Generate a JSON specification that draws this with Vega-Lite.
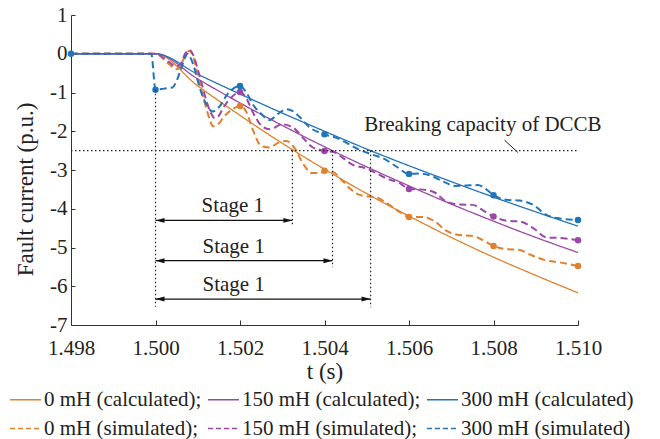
{
  "$schema": "https://vega.github.io/schema/vega-lite/v6.json",
  "width": 507,
  "height": 310,
  "autosize": "none",
  "padding": {"left": 71, "top": 15, "right": 82, "bottom": 114},
  "background": "white",
  "datasets": {
    "calc": [
      {"s": "0 mH (calculated);", "t": 1.498, "v": 0}, {"s": "0 mH (calculated);", "t": 1.5, "v": 0},
      {"s": "0 mH (calculated);", "t": 1.501, "v": -0.83}, {"s": "0 mH (calculated);", "t": 1.502, "v": -1.59},
      {"s": "0 mH (calculated);", "t": 1.503, "v": -2.31}, {"s": "0 mH (calculated);", "t": 1.504, "v": -2.98},
      {"s": "0 mH (calculated);", "t": 1.505, "v": -3.61}, {"s": "0 mH (calculated);", "t": 1.506, "v": -4.19},
      {"s": "0 mH (calculated);", "t": 1.507, "v": -4.74}, {"s": "0 mH (calculated);", "t": 1.508, "v": -5.25},
      {"s": "0 mH (calculated);", "t": 1.509, "v": -5.72}, {"s": "0 mH (calculated);", "t": 1.51, "v": -6.17},
      {"s": "150 mH (calculated);", "t": 1.498, "v": 0}, {"s": "150 mH (calculated);", "t": 1.5, "v": 0},
      {"s": "150 mH (calculated);", "t": 1.501, "v": -0.65}, {"s": "150 mH (calculated);", "t": 1.502, "v": -1.27},
      {"s": "150 mH (calculated);", "t": 1.503, "v": -1.85}, {"s": "150 mH (calculated);", "t": 1.504, "v": -2.4},
      {"s": "150 mH (calculated);", "t": 1.505, "v": -2.92}, {"s": "150 mH (calculated);", "t": 1.506, "v": -3.41},
      {"s": "150 mH (calculated);", "t": 1.507, "v": -3.88}, {"s": "150 mH (calculated);", "t": 1.508, "v": -4.32},
      {"s": "150 mH (calculated);", "t": 1.509, "v": -4.74}, {"s": "150 mH (calculated);", "t": 1.51, "v": -5.13},
      {"s": "300 mH (calculated)", "t": 1.498, "v": 0}, {"s": "300 mH (calculated)", "t": 1.5, "v": 0},
      {"s": "300 mH (calculated)", "t": 1.501, "v": -0.53}, {"s": "300 mH (calculated)", "t": 1.502, "v": -1.04},
      {"s": "300 mH (calculated)", "t": 1.503, "v": -1.53}, {"s": "300 mH (calculated)", "t": 1.504, "v": -2.0},
      {"s": "300 mH (calculated)", "t": 1.505, "v": -2.46}, {"s": "300 mH (calculated)", "t": 1.506, "v": -2.89},
      {"s": "300 mH (calculated)", "t": 1.507, "v": -3.3}, {"s": "300 mH (calculated)", "t": 1.508, "v": -3.7},
      {"s": "300 mH (calculated)", "t": 1.509, "v": -4.08}, {"s": "300 mH (calculated)", "t": 1.51, "v": -4.45}
    ],
    "sim": [
      {"s": "0 mH (simulated);", "t": 1.498, "v": 0}, {"s": "0 mH (simulated);", "t": 1.5, "v": 0},
      {"s": "0 mH (simulated);", "t": 1.5003, "v": -0.25}, {"s": "0 mH (simulated);", "t": 1.5005, "v": -0.4},
      {"s": "0 mH (simulated);", "t": 1.5006, "v": -0.3}, {"s": "0 mH (simulated);", "t": 1.5007, "v": -0.05},
      {"s": "0 mH (simulated);", "t": 1.5008, "v": 0.08}, {"s": "0 mH (simulated);", "t": 1.5009, "v": -0.1},
      {"s": "0 mH (simulated);", "t": 1.501, "v": -0.55}, {"s": "0 mH (simulated);", "t": 1.5011, "v": -1.0},
      {"s": "0 mH (simulated);", "t": 1.5012, "v": -1.4}, {"s": "0 mH (simulated);", "t": 1.5013, "v": -1.75},
      {"s": "0 mH (simulated);", "t": 1.50135, "v": -1.87}, {"s": "0 mH (simulated);", "t": 1.5015, "v": -1.8},
      {"s": "0 mH (simulated);", "t": 1.5016, "v": -1.65}, {"s": "0 mH (simulated);", "t": 1.5018, "v": -1.45},
      {"s": "0 mH (simulated);", "t": 1.502, "v": -1.35}, {"s": "0 mH (simulated);", "t": 1.50215, "v": -1.5},
      {"s": "0 mH (simulated);", "t": 1.5023, "v": -1.95}, {"s": "0 mH (simulated);", "t": 1.5025, "v": -2.38},
      {"s": "0 mH (simulated);", "t": 1.5027, "v": -2.42}, {"s": "0 mH (simulated);", "t": 1.5029, "v": -2.3},
      {"s": "0 mH (simulated);", "t": 1.5031, "v": -2.25}, {"s": "0 mH (simulated);", "t": 1.5033, "v": -2.45},
      {"s": "0 mH (simulated);", "t": 1.5035, "v": -2.85}, {"s": "0 mH (simulated);", "t": 1.5037, "v": -3.08},
      {"s": "0 mH (simulated);", "t": 1.5039, "v": -3.08}, {"s": "0 mH (simulated);", "t": 1.504, "v": -3.02},
      {"s": "0 mH (simulated);", "t": 1.5042, "v": -3.05}, {"s": "0 mH (simulated);", "t": 1.5044, "v": -3.25},
      {"s": "0 mH (simulated);", "t": 1.5046, "v": -3.48}, {"s": "0 mH (simulated);", "t": 1.5048, "v": -3.63},
      {"s": "0 mH (simulated);", "t": 1.505, "v": -3.68}, {"s": "0 mH (simulated);", "t": 1.5052, "v": -3.7},
      {"s": "0 mH (simulated);", "t": 1.5054, "v": -3.8}, {"s": "0 mH (simulated);", "t": 1.5056, "v": -3.95},
      {"s": "0 mH (simulated);", "t": 1.5058, "v": -4.1}, {"s": "0 mH (simulated);", "t": 1.506, "v": -4.21},
      {"s": "0 mH (simulated);", "t": 1.5063, "v": -4.21}, {"s": "0 mH (simulated);", "t": 1.5066, "v": -4.32},
      {"s": "0 mH (simulated);", "t": 1.5069, "v": -4.58}, {"s": "0 mH (simulated);", "t": 1.5072, "v": -4.68},
      {"s": "0 mH (simulated);", "t": 1.5075, "v": -4.7}, {"s": "0 mH (simulated);", "t": 1.50775, "v": -4.81},
      {"s": "0 mH (simulated);", "t": 1.508, "v": -4.96}, {"s": "0 mH (simulated);", "t": 1.5083, "v": -5.04},
      {"s": "0 mH (simulated);", "t": 1.5086, "v": -5.06}, {"s": "0 mH (simulated);", "t": 1.5089, "v": -5.2},
      {"s": "0 mH (simulated);", "t": 1.5092, "v": -5.32}, {"s": "0 mH (simulated);", "t": 1.5096, "v": -5.39},
      {"s": "0 mH (simulated);", "t": 1.51, "v": -5.48},
      {"s": "150 mH (simulated);", "t": 1.498, "v": 0}, {"s": "150 mH (simulated);", "t": 1.5, "v": 0},
      {"s": "150 mH (simulated);", "t": 1.5003, "v": -0.2}, {"s": "150 mH (simulated);", "t": 1.5005, "v": -0.33},
      {"s": "150 mH (simulated);", "t": 1.5006, "v": -0.25}, {"s": "150 mH (simulated);", "t": 1.5007, "v": 0.0},
      {"s": "150 mH (simulated);", "t": 1.5008, "v": 0.1}, {"s": "150 mH (simulated);", "t": 1.5009, "v": -0.05},
      {"s": "150 mH (simulated);", "t": 1.501, "v": -0.4}, {"s": "150 mH (simulated);", "t": 1.5011, "v": -0.8},
      {"s": "150 mH (simulated);", "t": 1.5012, "v": -1.2}, {"s": "150 mH (simulated);", "t": 1.5013, "v": -1.5},
      {"s": "150 mH (simulated);", "t": 1.5014, "v": -1.66}, {"s": "150 mH (simulated);", "t": 1.5015, "v": -1.6},
      {"s": "150 mH (simulated);", "t": 1.5016, "v": -1.4}, {"s": "150 mH (simulated);", "t": 1.5018, "v": -1.12},
      {"s": "150 mH (simulated);", "t": 1.502, "v": -0.99}, {"s": "150 mH (simulated);", "t": 1.50215, "v": -1.15},
      {"s": "150 mH (simulated);", "t": 1.5023, "v": -1.5}, {"s": "150 mH (simulated);", "t": 1.5025, "v": -1.85},
      {"s": "150 mH (simulated);", "t": 1.5027, "v": -1.95}, {"s": "150 mH (simulated);", "t": 1.503, "v": -1.82},
      {"s": "150 mH (simulated);", "t": 1.50325, "v": -1.9}, {"s": "150 mH (simulated);", "t": 1.5035, "v": -2.18},
      {"s": "150 mH (simulated);", "t": 1.5037, "v": -2.4}, {"s": "150 mH (simulated);", "t": 1.504, "v": -2.51},
      {"s": "150 mH (simulated);", "t": 1.5042, "v": -2.53}, {"s": "150 mH (simulated);", "t": 1.50445, "v": -2.7},
      {"s": "150 mH (simulated);", "t": 1.50467, "v": -2.87}, {"s": "150 mH (simulated);", "t": 1.5049, "v": -2.93},
      {"s": "150 mH (simulated);", "t": 1.50515, "v": -3.04}, {"s": "150 mH (simulated);", "t": 1.50547, "v": -3.22},
      {"s": "150 mH (simulated);", "t": 1.50578, "v": -3.34}, {"s": "150 mH (simulated);", "t": 1.506, "v": -3.49},
      {"s": "150 mH (simulated);", "t": 1.50625, "v": -3.5}, {"s": "150 mH (simulated);", "t": 1.50657, "v": -3.56},
      {"s": "150 mH (simulated);", "t": 1.50689, "v": -3.82}, {"s": "150 mH (simulated);", "t": 1.5072, "v": -3.89},
      {"s": "150 mH (simulated);", "t": 1.50751, "v": -3.9}, {"s": "150 mH (simulated);", "t": 1.50779, "v": -4.07},
      {"s": "150 mH (simulated);", "t": 1.508, "v": -4.2}, {"s": "150 mH (simulated);", "t": 1.50831, "v": -4.31},
      {"s": "150 mH (simulated);", "t": 1.50862, "v": -4.33}, {"s": "150 mH (simulated);", "t": 1.50894, "v": -4.5},
      {"s": "150 mH (simulated);", "t": 1.50925, "v": -4.74}, {"s": "150 mH (simulated);", "t": 1.50965, "v": -4.76},
      {"s": "150 mH (simulated);", "t": 1.51, "v": -4.81},
      {"s": "300 mH (simulated)", "t": 1.498, "v": 0}, {"s": "300 mH (simulated)", "t": 1.4999, "v": 0},
      {"s": "300 mH (simulated)", "t": 1.5, "v": -0.93}, {"s": "300 mH (simulated)", "t": 1.5002, "v": -0.9},
      {"s": "300 mH (simulated)", "t": 1.5004, "v": -0.87}, {"s": "300 mH (simulated)", "t": 1.5005, "v": -0.7},
      {"s": "300 mH (simulated)", "t": 1.5006, "v": -0.4}, {"s": "300 mH (simulated)", "t": 1.5007, "v": -0.1},
      {"s": "300 mH (simulated)", "t": 1.50075, "v": 0.0}, {"s": "300 mH (simulated)", "t": 1.5008, "v": -0.05},
      {"s": "300 mH (simulated)", "t": 1.5009, "v": -0.3}, {"s": "300 mH (simulated)", "t": 1.501, "v": -0.7},
      {"s": "300 mH (simulated)", "t": 1.5011, "v": -1.05}, {"s": "300 mH (simulated)", "t": 1.5012, "v": -1.3},
      {"s": "300 mH (simulated)", "t": 1.50135, "v": -1.49}, {"s": "300 mH (simulated)", "t": 1.5015, "v": -1.38},
      {"s": "300 mH (simulated)", "t": 1.50172, "v": -1.02}, {"s": "300 mH (simulated)", "t": 1.502, "v": -0.83},
      {"s": "300 mH (simulated)", "t": 1.50215, "v": -1.0}, {"s": "300 mH (simulated)", "t": 1.5023, "v": -1.3},
      {"s": "300 mH (simulated)", "t": 1.5025, "v": -1.55}, {"s": "300 mH (simulated)", "t": 1.5027, "v": -1.71},
      {"s": "300 mH (simulated)", "t": 1.5029, "v": -1.55}, {"s": "300 mH (simulated)", "t": 1.5031, "v": -1.43},
      {"s": "300 mH (simulated)", "t": 1.50325, "v": -1.48}, {"s": "300 mH (simulated)", "t": 1.5034, "v": -1.62},
      {"s": "300 mH (simulated)", "t": 1.50365, "v": -1.9}, {"s": "300 mH (simulated)", "t": 1.504, "v": -2.08},
      {"s": "300 mH (simulated)", "t": 1.50428, "v": -2.17}, {"s": "300 mH (simulated)", "t": 1.50452, "v": -2.3},
      {"s": "300 mH (simulated)", "t": 1.50483, "v": -2.48}, {"s": "300 mH (simulated)", "t": 1.50515, "v": -2.61},
      {"s": "300 mH (simulated)", "t": 1.50539, "v": -2.7}, {"s": "300 mH (simulated)", "t": 1.5057, "v": -2.91},
      {"s": "300 mH (simulated)", "t": 1.506, "v": -3.1}, {"s": "300 mH (simulated)", "t": 1.50625, "v": -3.09},
      {"s": "300 mH (simulated)", "t": 1.50657, "v": -3.17}, {"s": "300 mH (simulated)", "t": 1.50689, "v": -3.34},
      {"s": "300 mH (simulated)", "t": 1.50708, "v": -3.41}, {"s": "300 mH (simulated)", "t": 1.50736, "v": -3.4},
      {"s": "300 mH (simulated)", "t": 1.50763, "v": -3.39}, {"s": "300 mH (simulated)", "t": 1.50783, "v": -3.5},
      {"s": "300 mH (simulated)", "t": 1.508, "v": -3.65}, {"s": "300 mH (simulated)", "t": 1.50831, "v": -3.77},
      {"s": "300 mH (simulated)", "t": 1.50862, "v": -3.79}, {"s": "300 mH (simulated)", "t": 1.50894, "v": -3.9},
      {"s": "300 mH (simulated)", "t": 1.50925, "v": -4.16}, {"s": "300 mH (simulated)", "t": 1.50957, "v": -4.25},
      {"s": "300 mH (simulated)", "t": 1.51, "v": -4.29}
    ],
    "markers": [
      {"s": "0 mH (simulated);", "t": 1.502, "v": -1.35}, {"s": "0 mH (simulated);", "t": 1.504, "v": -3.02},
      {"s": "0 mH (simulated);", "t": 1.506, "v": -4.21}, {"s": "0 mH (simulated);", "t": 1.508, "v": -4.96},
      {"s": "0 mH (simulated);", "t": 1.51, "v": -5.48},
      {"s": "150 mH (simulated);", "t": 1.502, "v": -0.99}, {"s": "150 mH (simulated);", "t": 1.504, "v": -2.51},
      {"s": "150 mH (simulated);", "t": 1.506, "v": -3.49}, {"s": "150 mH (simulated);", "t": 1.508, "v": -4.2},
      {"s": "150 mH (simulated);", "t": 1.51, "v": -4.81},
      {"s": "300 mH (simulated)", "t": 1.498, "v": 0}, {"s": "300 mH (simulated)", "t": 1.5, "v": -0.93},
      {"s": "300 mH (simulated)", "t": 1.502, "v": -0.83}, {"s": "300 mH (simulated)", "t": 1.504, "v": -2.08},
      {"s": "300 mH (simulated)", "t": 1.506, "v": -3.1}, {"s": "300 mH (simulated)", "t": 1.508, "v": -3.65},
      {"s": "300 mH (simulated)", "t": 1.51, "v": -4.29}
    ],
    "hline": [{"t": 1.498, "t2": 1.51, "v": -2.5}],
    "vlines": [
      {"t": 1.5, "v": -0.93, "v2": -6.53},
      {"t": 1.50324, "v": -2.5, "v2": -4.42},
      {"t": 1.50419, "v": -2.5, "v2": -5.51},
      {"t": 1.50509, "v": -2.5, "v2": -6.54}
    ],
    "arrows": [
      {"t": 1.5, "t2": 1.50324, "v": -4.3},
      {"t": 1.5, "t2": 1.50419, "v": -5.34},
      {"t": 1.5, "t2": 1.50509, "v": -6.33}
    ],
    "stages": [
      {"t": 1.50183, "v": -3.92, "label": "Stage 1"},
      {"t": 1.50185, "v": -4.98, "label": "Stage 1"},
      {"t": 1.50185, "v": -5.97, "label": "Stage 1"}
    ],
    "note": [{"t": 1.50775, "v": -1.84, "label": "Breaking capacity of DCCB"}],
    "leader": [{"t": 1.50826, "t2": 1.50858, "v": -2.23, "v2": -2.55}]
  },
  "encoding": {
    "x": {
      "field": "t", "type": "quantitative",
      "scale": {"domain": [1.498, 1.51], "nice": false, "zero": false},
      "axis": {
        "title": "t (s)", "values": [1.498, 1.5, 1.502, 1.504, 1.506, 1.508, 1.51],
        "format": ".3f", "grid": false, "tickSize": -5, "labelPadding": 17,
        "titlePadding": 2, "labelFlush": false, "labelOverlap": false
      }
    },
    "y": {
      "field": "v", "type": "quantitative",
      "scale": {"domain": [-7, 1], "nice": false, "zero": false},
      "axis": {
        "title": "Fault current (p.u.)", "values": [-7, -6, -5, -4, -3, -2, -1, 0, 1],
        "labelExpr": "toString(datum.value)", "grid": false, "tickSize": -4,
        "labelPadding": 8, "titleX": -46, "titleY": 174, "titleBaseline": "middle",
        "labelFlush": false, "labelOverlap": false
      }
    }
  },
  "layer": [
    {
      "data": {"name": "calc"},
      "mark": {"type": "line", "strokeWidth": 1.3, "interpolate": "monotone"},
      "encoding": {
        "color": {"field": "s", "type": "nominal", "sort": null,
          "scale": {
            "domain": ["0 mH (calculated);", "150 mH (calculated);", "300 mH (calculated)", "0 mH (simulated);", "150 mH (simulated);", "300 mH (simulated)"],
            "range": ["#E0802C", "#9A48A8", "#2274B8", "#E0802C", "#9A48A8", "#2274B8"]
          }
        },
        "strokeDash": {"field": "s", "type": "nominal", "sort": null,
          "scale": {
            "domain": ["0 mH (calculated);", "150 mH (calculated);", "300 mH (calculated)", "0 mH (simulated);", "150 mH (simulated);", "300 mH (simulated)"],
            "range": [[1, 0], [1, 0], [1, 0], [5, 3], [5, 3], [5, 3]]
          }
        }
      }
    },
    {
      "data": {"name": "sim"},
      "mark": {"type": "line", "strokeWidth": 2, "interpolate": "monotone", "strokeDash": [7, 4]},
      "encoding": {
        "color": {"field": "s", "type": "nominal", "sort": null}
      }
    },
    {
      "data": {"name": "markers"},
      "mark": {"type": "circle", "size": 42, "opacity": 1},
      "encoding": {
        "fill": {"field": "s", "type": "nominal", "legend": null,
          "scale": {"domain": ["0 mH (simulated);", "150 mH (simulated);", "300 mH (simulated)"], "range": ["#E0802C", "#9A48A8", "#2274B8"]}
        }
      }
    },
    {
      "data": {"name": "hline"},
      "mark": {"type": "rule", "color": "#222", "strokeWidth": 1.2, "strokeDash": [1.5, 2.5]},
      "encoding": {"x2": {"field": "t2"}}
    },
    {
      "data": {"name": "vlines"},
      "mark": {"type": "rule", "color": "#222", "strokeWidth": 1.2, "strokeDash": [1.5, 2.5]},
      "encoding": {"y2": {"field": "v2"}}
    },
    {
      "data": {"name": "leader"},
      "mark": {"type": "rule", "color": "#222", "strokeWidth": 1},
      "encoding": {"x2": {"field": "t2"}, "y2": {"field": "v2"}}
    },
    {
      "data": {"name": "arrows"},
      "mark": {"type": "rule", "color": "#111", "strokeWidth": 1.3},
      "encoding": {"x2": {"field": "t2"}}
    },
    {
      "data": {"name": "arrows"},
      "mark": {"type": "point", "shape": "M0,0L2,-0.55L2,0.55Z", "size": 81, "filled": true, "color": "#111", "opacity": 1}
    },
    {
      "data": {"name": "arrows"},
      "mark": {"type": "point", "shape": "M0,0L-2,-0.55L-2,0.55Z", "size": 81, "filled": true, "color": "#111", "opacity": 1},
      "encoding": {"x": {"field": "t2", "type": "quantitative"}}
    },
    {
      "data": {"name": "stages"},
      "mark": {"type": "text", "font": "'Liberation Serif', 'Times New Roman', 'DejaVu Serif', serif", "fontSize": 21, "color": "#222", "align": "center", "baseline": "middle"},
      "encoding": {"text": {"field": "label"}}
    },
    {
      "data": {"name": "note"},
      "mark": {"type": "text", "font": "'Liberation Serif', 'Times New Roman', 'DejaVu Serif', serif", "fontSize": 21, "color": "#222", "align": "center", "baseline": "middle"},
      "encoding": {"text": {"field": "label"}}
    }
  ],
  "config": {
    "view": {"stroke": null},
    "font": "'Liberation Serif', 'Times New Roman', 'DejaVu Serif', serif",
    "axis": {
      "domainColor": "#333", "tickColor": "#333", "domainWidth": 1, "tickWidth": 1,
      "labelFont": "'Liberation Serif', 'Times New Roman', 'DejaVu Serif', serif", "labelFontSize": 21, "labelColor": "#222",
      "titleFont": "'Liberation Serif', 'Times New Roman', 'DejaVu Serif', serif", "titleFontSize": 23, "titleFontWeight": "normal", "titleColor": "#222"
    },
    "legend": {
      "orient": "none", "legendX": -62, "legendY": 368, "title": null, "direction": "horizontal",
      "columns": 3, "columnPadding": 3, "rowPadding": 2,
      "symbolType": "stroke", "symbolSize": 961, "symbolStrokeWidth": 1.5,
      "labelFont": "'Liberation Serif', 'Times New Roman', 'DejaVu Serif', serif", "labelFontSize": 21, "labelColor": "#222",
      "labelLimit": 400, "labelOffset": 2, "padding": 0
    }
  }
}
